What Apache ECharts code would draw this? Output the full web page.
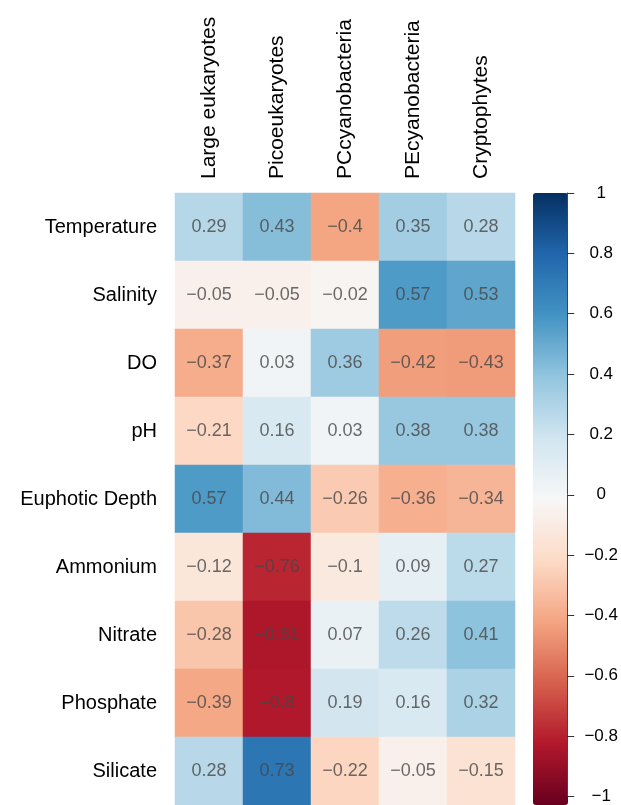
<!DOCTYPE html>
<html>
<head>
<meta charset="utf-8">
<script src="https://cdn.jsdelivr.net/npm/echarts@6/dist/echarts.min.js"></script>
<style>
  html, body { margin: 0; padding: 0; background: #fff; }
  #main { width: 621px; height: 805px; }
</style>
</head>
<body>
<div id="main"></div>
<script>
// columns (plankton groups) and rows (environment factors)
var groups = ['Large eukaryotes', 'Picoeukaryotes', 'PCcyanobacteria', 'PEcyanobacteria', 'Cryptophytes'];
var factors = ['Temperature', 'Salinity', 'DO', 'pH', 'Euphotic Depth', 'Ammonium', 'Nitrate', 'Phosphate', 'Silicate'];

// correlation rows, one array per factor
var temperature = [0.29, 0.43, -0.4, 0.35, 0.28];
var salinity = [-0.05, -0.05, -0.02, 0.57, 0.53];
var dissolvedO2 = [-0.37, 0.03, 0.36, -0.42, -0.43];
var ph = [-0.21, 0.16, 0.03, 0.38, 0.38];
var euphoticDepth = [0.57, 0.44, -0.26, -0.36, -0.34];
var ammonium = [-0.12, -0.76, -0.1, 0.09, 0.27];
var nitrate = [-0.28, -0.81, 0.07, 0.26, 0.41];
var phosphate = [-0.39, -0.8, 0.19, 0.16, 0.32];
var silicate = [0.28, 0.73, -0.22, -0.05, -0.15];

// RdBu reversed, -1 -> dark red, 1 -> dark blue
var rdbu = ['#67001f', '#b2182b', '#d6604d', '#f4a582', '#fddbc7', '#f7f7f7',
            '#d1e5f0', '#92c5de', '#4393c3', '#2166ac', '#053061'];

var rows = [temperature, salinity, dissolvedO2, ph, euphoticDepth, ammonium, nitrate, phosphate, silicate];
var cells = [];
rows.forEach(function (row, r) {
  row.forEach(function (v, c) {
    cells.push([c, r, v]);
  });
});

function fmt(v) {
  return String(v).replace('-', '\u2212');
}

var font = 'Liberation Sans, Arial, sans-serif';
var chart = echarts.init(document.getElementById('main'));

chart.setOption({
  animation: false,
  textStyle: { fontFamily: font },
  grid: [
    { left: 175, top: 193, width: 340, height: 612 },
    { left: 533, top: 193, width: 35, height: 612 }
  ],
  xAxis: [
    {
      type: 'category', data: groups, position: 'top', gridIndex: 0,
      axisLine: { show: false }, axisTick: { show: false }, splitLine: { show: false },
      axisLabel: { rotate: -90, margin: 14, fontSize: 21, color: '#000', fontFamily: font }
    },
    { type: 'value', gridIndex: 1, show: false }
  ],
  yAxis: [
    {
      type: 'category', data: factors, inverse: true, gridIndex: 0,
      axisLine: { show: false }, axisTick: { show: false }, splitLine: { show: false },
      axisLabel: { margin: 18, fontSize: 20, color: '#000', fontFamily: font }
    },
    {
      // colorbar scale
      type: 'value', gridIndex: 1, min: -1, max: 1, interval: 0.2, position: 'right', z: 10,
      axisLine: { show: true, onZero: false, lineStyle: { color: '#444', width: 1 } },
      splitLine: { show: false },
      axisTick: { show: true, inside: false, length: 7, lineStyle: { color: '#333', width: 1 } },
      axisLabel: {
        margin: 34, align: 'center', fontSize: 17, color: '#000', fontFamily: font,
        formatter: function (v) { return fmt(Math.round(v * 10) / 10); }
      }
    }
  ],
  visualMap: {
    type: 'continuous', min: -1, max: 1, seriesIndex: 0, z: 1,
    calculable: false, hoverLink: false, realtime: false,
    orient: 'vertical', left: 533, top: 193, padding: 0,
    itemWidth: 35, itemHeight: 612, text: null, showLabel: false,
    inRange: { color: rdbu }
  },
  series: [
    {
      type: 'heatmap', xAxisIndex: 0, yAxisIndex: 0, data: cells,
      label: {
        show: true, fontSize: 18, color: 'rgba(70,70,70,0.8)', fontFamily: font,
        formatter: function (p) { return fmt(p.value[2]); }
      },
      itemStyle: { borderWidth: 0 }
    },
    {
      type: 'scatter', xAxisIndex: 1, yAxisIndex: 1, data: [[0, 0]], symbolSize: 0, silent: true
    }
  ]
});
</script>
</body>
</html>
